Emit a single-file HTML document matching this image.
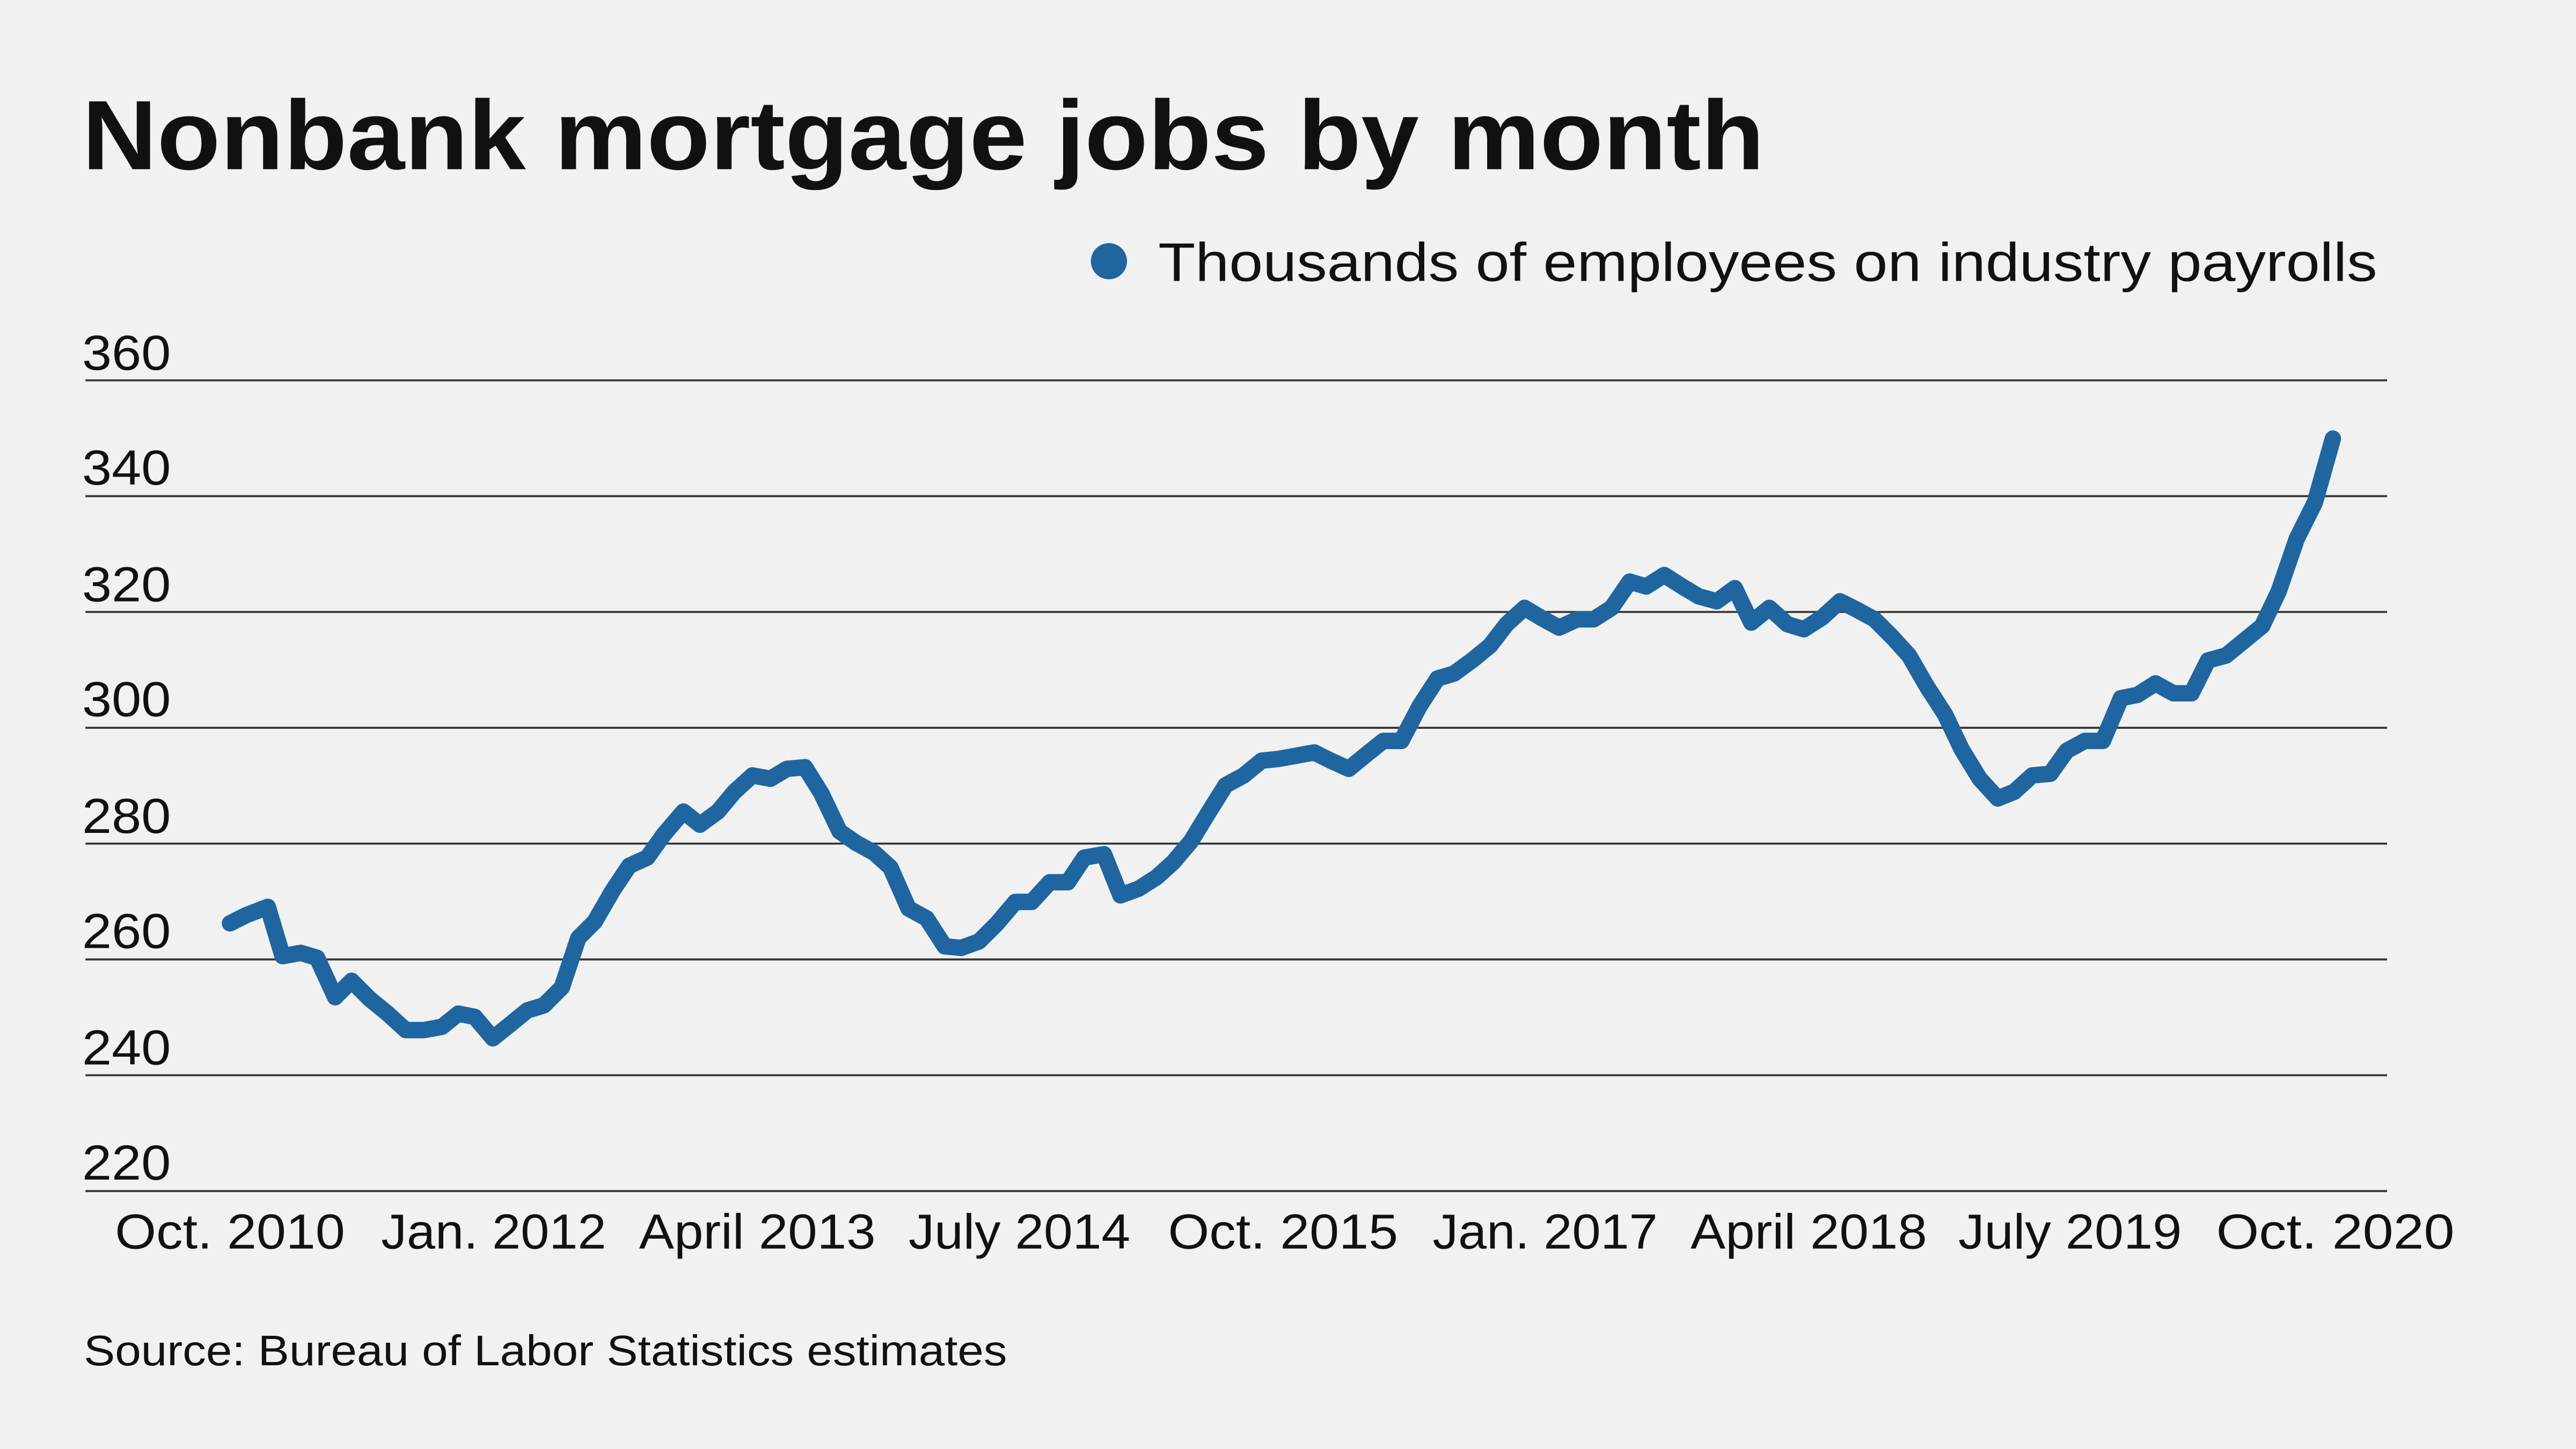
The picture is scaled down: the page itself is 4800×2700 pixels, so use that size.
<!DOCTYPE html>
<html><head><meta charset="utf-8"><style>
html,body{margin:0;padding:0;background:#f0f1f0;}
svg{display:block}
text{font-family:"Liberation Sans",sans-serif;fill:#111}
</style></head><body>
<svg width="4800" height="2700" viewBox="0 0 1568 882" xmlns="http://www.w3.org/2000/svg">
<rect width="1568" height="882" fill="#f0f1f0"/>
<text x="50" y="103" font-size="60" font-weight="bold" textLength="1024" lengthAdjust="spacingAndGlyphs">Nonbank mortgage jobs by month</text>
<circle cx="675" cy="159" r="11" fill="#1f65a0"/>
<text x="705" y="171" font-size="33" textLength="742" lengthAdjust="spacingAndGlyphs">Thousands of employees on industry payrolls</text>
<g stroke="#333" stroke-width="1.2">
<line x1="52" x2="1453" y1="231.5" y2="231.5"/>
<line x1="52" x2="1453" y1="302" y2="302"/>
<line x1="52" x2="1453" y1="372.5" y2="372.5"/>
<line x1="52" x2="1453" y1="443" y2="443"/>
<line x1="52" x2="1453" y1="513.5" y2="513.5"/>
<line x1="52" x2="1453" y1="584" y2="584"/>
<line x1="52" x2="1453" y1="654.5" y2="654.5"/>
<line x1="52" x2="1453" y1="725" y2="725"/>
</g>
<g font-size="30">
<text x="50" y="225" textLength="54" lengthAdjust="spacingAndGlyphs">360</text>
<text x="50" y="295" textLength="54" lengthAdjust="spacingAndGlyphs">340</text>
<text x="50" y="366" textLength="54" lengthAdjust="spacingAndGlyphs">320</text>
<text x="50" y="436" textLength="54" lengthAdjust="spacingAndGlyphs">300</text>
<text x="50" y="507" textLength="54" lengthAdjust="spacingAndGlyphs">280</text>
<text x="50" y="577" textLength="54" lengthAdjust="spacingAndGlyphs">260</text>
<text x="50" y="648" textLength="54" lengthAdjust="spacingAndGlyphs">240</text>
<text x="50" y="718" textLength="54" lengthAdjust="spacingAndGlyphs">220</text>
</g>
<g font-size="30">
<text x="70" y="760" textLength="140" lengthAdjust="spacingAndGlyphs">Oct. 2010</text>
<text x="232" y="760" textLength="137" lengthAdjust="spacingAndGlyphs">Jan. 2012</text>
<text x="389" y="760" textLength="144" lengthAdjust="spacingAndGlyphs">April 2013</text>
<text x="553" y="760" textLength="135" lengthAdjust="spacingAndGlyphs">July 2014</text>
<text x="711" y="760" textLength="140" lengthAdjust="spacingAndGlyphs">Oct. 2015</text>
<text x="872" y="760" textLength="137" lengthAdjust="spacingAndGlyphs">Jan. 2017</text>
<text x="1029" y="760" textLength="144" lengthAdjust="spacingAndGlyphs">April 2018</text>
<text x="1192" y="760" textLength="136" lengthAdjust="spacingAndGlyphs">July 2019</text>
<text x="1349" y="760" textLength="145" lengthAdjust="spacingAndGlyphs">Oct. 2020</text>
</g>
<text x="51" y="831" font-size="26" textLength="562" lengthAdjust="spacingAndGlyphs">Source: Bureau of Labor Statistics estimates</text>
<polyline fill="none" stroke="#1f65a0" stroke-width="10" stroke-linejoin="round" stroke-linecap="round" points="140,562 150,557 163,552 172,582 183,580 193,583 204,607 214,597 225,608 236,617 247,627 258,627 269,625 279,617 289,619 300,632 310,624 321,615 331,612 342,601 352,571 362,561 373,542 383,527 394,522 404,508 416,494 426,502 437,494 447,482 458,472 469,474 479,468 490,467 500,483 511,506 521,513 532,519 542,528 553,553 564,559 575,576 585,577 596,573 607,562 618,549 628,549 639,537 650,537 660,522 672,520 682,545 693,541 704,534 714,525 725,512 736,494 746,478 757,472 768,463 778,462 789,460 800,458 810,463 821,468 832,459 842,451 853,451 864,430 875,413 885,410 896,402 907,393 917,380 928,370 938,376 949,382 960,377 970,377 981,370 992,354 1002,357 1013,350 1024,357 1034,363 1045,366 1056,358 1066,379 1077,370 1088,380 1098,383 1109,376 1120,366 1130,371 1141,377 1152,388 1162,399 1173,418 1184,435 1194,456 1205,474 1216,486 1226,482 1237,472 1248,471 1258,457 1269,451 1280,451 1291,425 1301,423 1312,416 1323,422 1334,422 1344,402 1355,399 1366,390 1377,381 1387,360 1398,328 1409,306 1420,267"/>
</svg>
</body></html>
